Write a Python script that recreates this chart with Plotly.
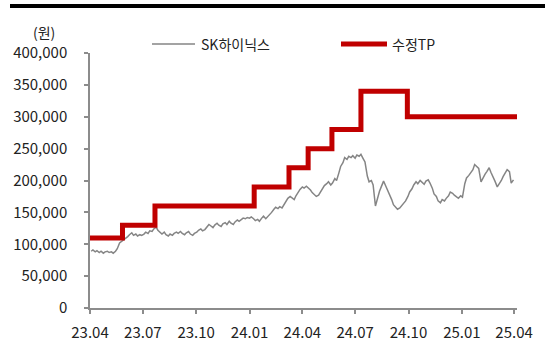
import pandas as pd
import plotly.graph_objects as go

# SK hynix price (won), sampled Mon/Thu, thousands
price_k = [
    89, 91, 88, 90, 87, 89, 86, 88,                     # 2023 Apr
    89, 87, 88, 86, 89, 93, 102, 104, 107, 110,         # May
    112, 115, 118, 114, 116, 113, 115, 114,             # Jun
    116, 119, 117, 121, 120, 124, 127, 122, 118, 116,   # Jul
    119, 115, 113, 116, 114, 117, 119, 117,             # Aug
    120, 117, 115, 118, 120, 116, 114, 117,             # Sep
    119, 122, 124, 121, 123, 127, 131, 129, 126, 130,   # Oct
    133, 130, 128, 132, 134, 131, 136, 133,             # Nov
    131, 135, 138, 136, 139, 141, 140, 142, 141, 143,   # Dec
    140, 137, 139, 136, 141, 144, 140, 143,             # 2024 Jan
    146, 150, 155, 158, 156, 159, 157, 161,             # Feb
    166, 172, 175, 173, 170, 176, 182, 186, 190, 188,   # Mar
    191, 189, 185, 181, 178, 175, 177, 181,             # Apr
    188, 192, 195, 198, 193, 196, 203, 200,             # May
    212, 222, 228, 236, 233, 238, 236, 239, 235, 240,   # Jun
    238, 241, 234, 229, 207, 198, 200, 193,             # Jul
    160, 172, 183, 190, 199, 193, 185, 178,             # Aug
    170, 162, 158, 155, 157, 160, 165, 168,             # Sep
    175, 182, 187, 193, 198, 195, 200, 197, 194, 199,   # Oct
    201, 196, 188, 179, 175, 168, 165, 170,             # Nov
    168, 172, 176, 182, 180, 177, 174, 172, 176, 174,   # Dec
    195, 204, 208, 212, 217, 225, 222, 219,             # 2025 Jan
    198, 204, 210, 214, 220, 213, 206, 199,             # Feb
    190, 194, 200, 206, 212, 217, 214, 196, 201,        # Mar
]
mondays = pd.date_range("2023-04-03", "2025-03-31", freq="W-MON")
thursdays = pd.date_range("2023-04-06", "2025-03-27", freq="W-THU")
price_dates = sorted(list(mondays) + list(thursdays))
price = [v * 1000 for v in price_k]

# Target price steps
tp_dates = ["2023-04-01", "2023-05-27", "2023-07-22", "2024-01-09", "2024-03-09",
            "2024-04-11", "2024-05-22", "2024-07-11", "2024-09-29", "2025-04-06"]
tp_values = [110000, 130000, 160000, 190000, 220000, 250000, 280000, 340000, 300000, 300000]

y_ticks = [0, 50000, 100000, 150000, 200000, 250000, 300000, 350000, 400000]

FONT = "Noto Sans CJK KR"
GRAY = "#858585"
RED = "#C00000"
fig = go.Figure()
fig.add_trace(go.Scatter(x=price_dates, y=price, mode="lines", name="SK하이닉스",
                         line=dict(color=GRAY, width=1.5)))
fig.add_trace(go.Scatter(x=tp_dates, y=tp_values, mode="lines", name="수정TP",
                         line=dict(color=RED, width=5, shape="hv")))

fig.update_layout(
    width=545, height=342,
    margin=dict(l=90, r=28, t=53, b=34, autoexpand=False),
    paper_bgcolor="white", plot_bgcolor="white",
    font=dict(family=FONT, size=15, color="#222222"),
    showlegend=False,
)
fig.update_xaxes(
    type="date", range=["2023-04-01", "2025-04-06"],
    tick0="2023-04-01", dtick="M3", tickformat="%y.%m",
    showgrid=False, zeroline=False,
    showline=True, linecolor="#8c8c8c", linewidth=1.5,
    ticks="outside", ticklen=4, tickcolor="#8c8c8c", tickwidth=1.5,
    ticklabelstandoff=6, tickfont=dict(size=15),
)
fig.update_yaxes(
    range=[0, 400000], tickvals=y_ticks, tickformat=",",
    showgrid=False, zeroline=False,
    showline=True, linecolor="#8c8c8c", linewidth=1.5,
    ticks="outside", ticklen=4, tickcolor="#8c8c8c", tickwidth=1.5,
    ticklabelstandoff=14, tickfont=dict(size=15),
)

def px(x):
    return (x - 90) / 427.0

def py(y):
    return (308 - y) / 255.0

# manual legend
fig.add_shape(type="line", xref="paper", yref="paper", x0=px(152), x1=px(195), y0=py(44), y1=py(44),
              line=dict(color=GRAY, width=1.5))
fig.add_annotation(text="SK하이닉스", xref="paper", yref="paper", x=px(199), y=py(44),
                   showarrow=False, xanchor="left", yanchor="middle", font=dict(size=14))
fig.add_shape(type="line", xref="paper", yref="paper", x0=px(341), x1=px(387), y0=py(44), y1=py(44),
              line=dict(color=RED, width=5))
fig.add_annotation(text="수정TP", xref="paper", yref="paper", x=px(390), y=py(44),
                   showarrow=False, xanchor="left", yanchor="middle", font=dict(size=14))

fig.add_annotation(text="(원)", xref="paper", yref="paper", x=px(44), y=py(32),
                   showarrow=False, font=dict(size=14), xanchor="center", yanchor="middle")
fig.add_shape(type="line", xref="paper", yref="paper", x0=px(10), x1=px(545), y0=py(6), y1=py(6),
              line=dict(color="black", width=4))

fig.write_html("out.html")
